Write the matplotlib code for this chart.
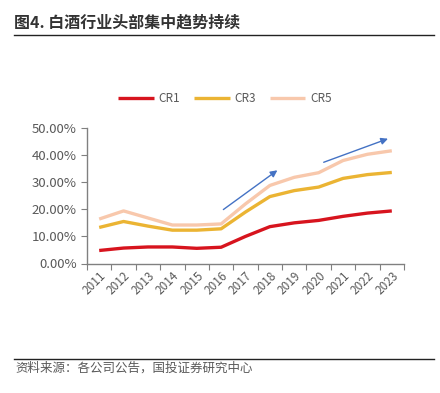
import numpy as np
import matplotlib
matplotlib.use("Agg")
import matplotlib.pyplot as plt
from matplotlib.ticker import FuncFormatter, FixedLocator

plt.rcParams['font.family'] = ['Noto Sans CJK SC', 'DejaVu Sans']

# ---------- DATA ----------
years = ["2011", "2012", "2013", "2014", "2015", "2016", "2017",
         "2018", "2019", "2020", "2021", "2022", "2023"]
cr1 = [4.8, 5.7, 6.1, 6.1, 5.6, 6.0, 10.0, 13.6, 15.0, 15.9, 17.4, 18.6, 19.4]
cr3 = [13.3, 15.5, 13.8, 12.3, 12.3, 12.8, 19.0, 24.7, 26.9, 28.2, 31.4, 32.8, 33.6]
cr5 = [16.4, 19.4, 16.8, 14.2, 14.2, 14.6, 22.0, 28.8, 31.8, 33.5, 38.0, 40.3, 41.6]
title = "图4. 白酒行业头部集中趋势持续"
source = "资料来源：各公司公告，国投证券研究中心"
# --------------------------

x = np.arange(len(years))
grey = "#595959"

fig = plt.figure(figsize=(4.4, 3.93), dpi=100)
ax = fig.add_axes([87 / 440, 1 - 263.5 / 393, (404 - 87) / 440, (263.5 - 128) / 393])

ax.plot(x, cr1, color="#D7141E", lw=2.4, label="CR1", solid_capstyle="butt")
ax.plot(x, cr3, color="#EBB433", lw=2.4, label="CR3", solid_capstyle="butt")
ax.plot(x, cr5, color="#F8C8AC", lw=2.4, label="CR5", solid_capstyle="butt")

# trend arrows
arrow = dict(arrowstyle="-|>", color="#4472C4", lw=1.0, mutation_scale=10)
ax.annotate("", xy=(7.4, 35.0), xytext=(5.0, 19.3), arrowprops=arrow, annotation_clip=False)
ax.annotate("", xy=(11.95, 46.4), xytext=(9.1, 37.0), arrowprops=arrow, annotation_clip=False)

ax.set_xlim(-0.5, len(years) - 0.5)
ax.set_ylim(0, 50)
ax.set_yticks(np.arange(0, 51, 10))
ax.yaxis.set_major_formatter(FuncFormatter(lambda v, p: "%.2f%%" % v))

ax.xaxis.set_major_locator(FixedLocator(np.arange(-0.5, len(years), 1)))
ax.xaxis.set_minor_locator(FixedLocator(x))
ax.set_xticklabels([], minor=False)
ax.set_xticklabels(years, minor=True, rotation=45, ha="right", va="top",
                   rotation_mode="anchor", fontsize=8.5, color=grey)
ax.tick_params(axis="x", which="minor", length=0, pad=4)
ax.tick_params(axis="x", which="major", length=4, color="#808080", direction="out")
ax.tick_params(axis="y", length=4, color="#808080", labelsize=9.5, labelcolor=grey)

for s in ["top", "right"]:
    ax.spines[s].set_visible(False)
for s in ["left", "bottom"]:
    ax.spines[s].set_color("#808080")
    ax.spines[s].set_linewidth(1.0)

leg = fig.legend(loc="center", bbox_to_anchor=(225 / 440, 1 - 99 / 393), ncol=3,
                 frameon=False, fontsize=8.5, handlelength=3.0, columnspacing=1.2,
                 handletextpad=0.4)
for t in leg.get_texts():
    t.set_color(grey)

# title and lines
fig.text(14 / 440, 1 - 23 / 393, title, fontsize=11.5, fontweight="bold",
         color="#333333", va="center", ha="left")
fig.add_artist(plt.Line2D([14 / 440, 434 / 440], [1 - 35 / 393, 1 - 35 / 393],
                          color="#222222", lw=1.0))
fig.add_artist(plt.Line2D([14 / 440, 434 / 440], [1 - 359 / 393, 1 - 359 / 393],
                          color="#222222", lw=1.0))
fig.text(15 / 440, 1 - 368 / 393, source, fontsize=9, color=grey, style="italic",
         va="center", ha="left")

fig.savefig("out.png", dpi=100)
